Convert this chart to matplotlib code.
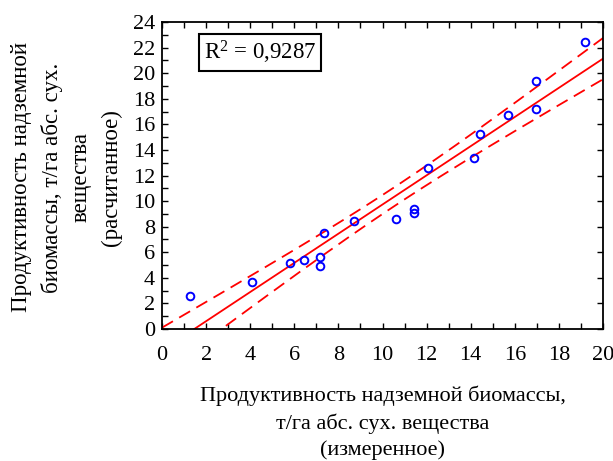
import numpy as np
import matplotlib
matplotlib.use('Agg')
import matplotlib.pyplot as plt
from matplotlib.ticker import MultipleLocator

plt.rcParams['font.family'] = ['Liberation Serif', 'DejaVu Serif']
plt.rcParams['mathtext.fontset'] = 'custom'
plt.rcParams['mathtext.rm'] = 'Liberation Serif'
plt.rcParams['mathtext.it'] = 'Liberation Serif:italic'

# измеренное / расчитанное, т/га
measured = [1.27, 4.07, 5.80, 6.44, 7.17, 7.17, 7.33, 8.69, 10.60, 11.41,
            11.41, 12.05, 14.13, 14.41, 15.68, 16.95, 16.95, 19.20]
calculated = [2.58, 3.70, 5.13, 5.42, 5.60, 4.95, 7.50, 8.47, 8.62, 9.41,
              9.07, 12.59, 13.37, 15.27, 16.70, 17.20, 19.42, 22.44]
r2_text = 'R$^\\mathrm{2}$ = 0,9287'
t_crit = 2.12  # t(0.975, df=16)


def fit_band(x, y, xs):
    x = np.asarray(x)
    y = np.asarray(y)
    n = len(x)
    b, a = np.polyfit(x, y, 1)
    resid = y - (a + b * x)
    s = np.sqrt(np.sum(resid ** 2) / (n - 2))
    sxx = np.sum((x - x.mean()) ** 2)
    yhat = a + b * xs
    half = t_crit * s * np.sqrt(1.0 / n + (xs - x.mean()) ** 2 / sxx)
    return yhat, yhat - half, yhat + half


fig = plt.figure(figsize=(6.13, 4.61), dpi=100)
ax = fig.add_axes([0.2643, 0.2863, 0.7194, 0.666])

xs = np.linspace(0, 20, 200)
yhat, lo, hi = fit_band(measured, calculated, xs)
ax.plot(xs, yhat, color='red', lw=1.3)
ax.plot(xs, lo, color='red', lw=1.3, ls=(0, (7, 4)))
ax.plot(xs, hi, color='red', lw=1.3, ls=(0, (7, 4)))
ax.plot(measured, calculated, 'o', mfc='none', mec='blue', mew=1.4, ms=5.5)

ax.set_xlim(0, 20)
ax.set_ylim(0, 24)
ax.xaxis.set_major_locator(MultipleLocator(2))
ax.xaxis.set_minor_locator(MultipleLocator(1))
ax.yaxis.set_major_locator(MultipleLocator(2))
ax.yaxis.set_minor_locator(MultipleLocator(1))
ax.tick_params(which='both', direction='in', top=True, right=True,
               length=4, width=1, labelsize=16, pad=5)
ax.tick_params(axis='x', which='major', pad=12)
ax.tick_params(which='minor', right=False)
for sp in ax.spines.values():
    sp.set_linewidth(1.3)

ax.text(0.095, 0.945, r2_text, transform=ax.transAxes, fontsize=16.5,
        va='top', ha='left',
        bbox=dict(boxstyle='square,pad=0.2', fc='white', ec='black', lw=1.5))

fig.text(0.108, 0.615,
         'Продуктивность надземной\nбиомассы, т/га абс. сух.\nвещества\n(расчитанное)',
         rotation=90, ha='center', va='center', multialignment='center',
         fontsize=16.5, linespacing=1.52)
fig.text(0.624, 0.083,
         'Продуктивность надземной биомассы,\nт/га абс. сух. вещества\n(измеренное)',
         ha='center', va='center', multialignment='center',
         fontsize=16, linespacing=1.48)

fig.savefig('out.png', dpi=100)
